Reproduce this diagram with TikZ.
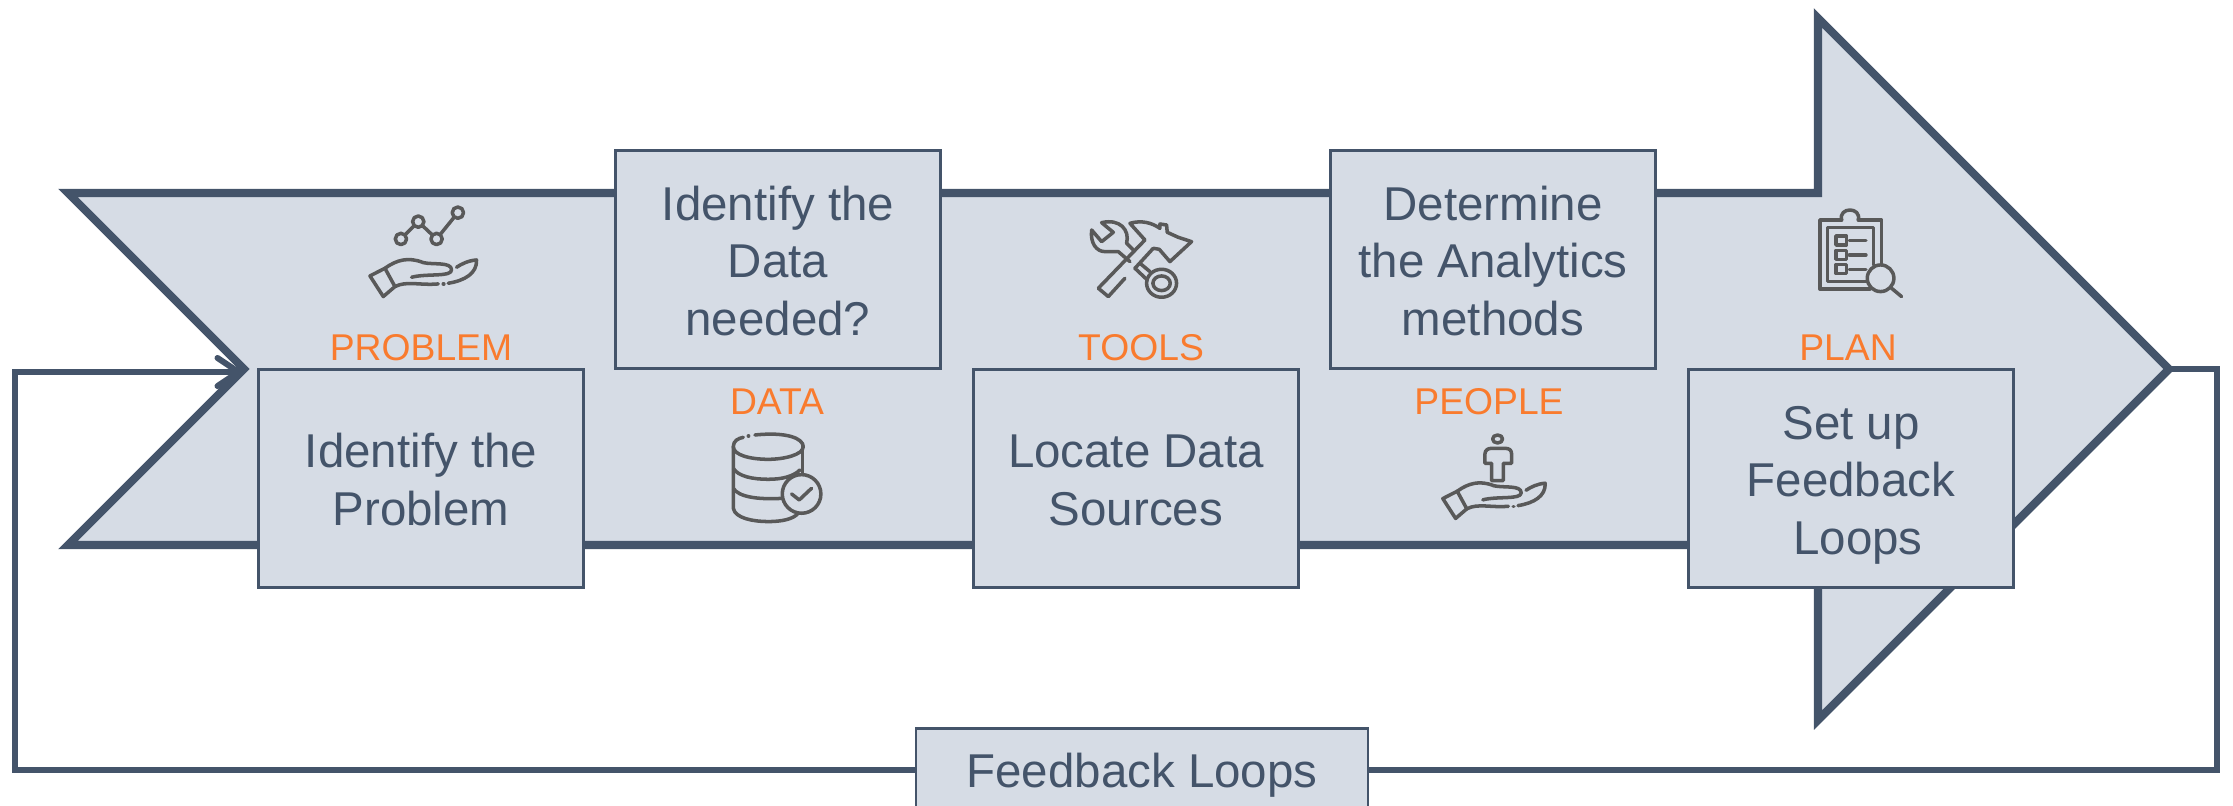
\documentclass[tikz,border=0pt]{standalone}
\usepackage{xcolor}
\usepackage{fontspec}
\setmainfont{Liberation Sans}
\usepackage{tikz}
\usetikzlibrary{arrows.meta}
\definecolor{slate}{HTML}{44546A}
\definecolor{paleslate}{HTML}{D6DCE5}
\definecolor{tagorange}{HTML}{F97B2E}
\definecolor{icongray}{HTML}{595959}
\newcommand{\topline}{\rule{0pt}{13.4pt}}
\tikzset{
  stepbox/.style={draw=slate, fill=paleslate, line width=.7pt, text=slate, minimum width=3.25cm, minimum height=2.18cm, inner sep=0pt, align=center, font=\fontsize{13.5}{16.4}\selectfont, execute at end node={\rule[-3pt]{0pt}{3pt}}},
  tag/.style={text=tagorange, inner sep=0pt, font=\fontsize{10.6}{12}\selectfont},
  iconline/.style={draw=icongray, line width=1pt, line cap=round, line join=round},
  handicon/.pic={
    \draw[iconline] (90,258) -- (135,235) -- (165,290) -- (130,320) -- cycle;
    \draw[iconline] (135,235) .. controls (170,210) and (205,200) .. (250,218) .. controls (280,225) and (335,215) .. (335,240) .. controls (335,262) and (260,250) .. (215,262);
    \draw[iconline] (165,290) .. controls (200,272) and (240,287) .. (295,282);
    \draw[iconline] (310,282) -- (312,282);
    \draw[iconline] (325,280) .. controls (375,272) and (412,250) .. (410,210) .. controls (385,212) and (365,222) .. (350,232);
  },
  charticon/.pic={
    \draw[iconline] (183,147) -- (235,95) -- (290,147) -- (354,68);
    \foreach \px/\py in {183/147, 235/95, 290/147, 354/68}
      \draw[iconline, fill=paleslate] (\px,\py) circle (17);
  },
  toolsicon/.pic={
    \draw[iconline] (85,265) -- (225,120);
    \draw[iconline] (85,265) -- (115,290) -- (165,235);
    \draw[iconline] (195,205) -- (250,145);
    \draw[iconline] (155,245) -- (156,245);
    \draw[iconline] (225,120) -- (180,70) .. controls (215,60) and (245,68) .. (270,85) -- (270,72) -- (290,75) -- (292,97) -- (325,112) -- (365,125) -- (300,185) -- (268,148) -- (250,145);
    \draw[iconline] (95,125) -- (65,90) .. controls (60,130) and (80,155) .. (105,155) -- (145,155) -- (180,185);
    \draw[iconline] (95,125) -- (130,97) -- (95,68) .. controls (150,55) and (180,90) .. (170,130) -- (190,150);
    \draw[iconline] (210,190) -- (240,215);
    \draw[iconline] (195,205) -- (232,240);
    \draw[iconline] (275,250) ellipse (45 and 42);
    \draw[iconline] (275,250) ellipse (26 and 22);
  },
  planicon/.pic={
    \draw[iconline] (155,90) -- (90,90) -- (90,298) -- (240,298);
    \draw[iconline] (205,90) -- (275,90) -- (275,225);
    \draw[iconline] (155,90) .. controls (145,50) and (215,50) .. (205,90);
    \draw[iconline] (240,275) -- (113,275) -- (113,113) -- (250,113) -- (250,225);
    \foreach \py in {138, 181, 224} {
      \draw[iconline] (138,\py) rectangle (170,\py+27);
      \draw[iconline] (178,\py+14) -- (228,\py+14);
    }
    \draw[iconline, fill=paleslate] (272,265) circle (40);
    \draw[iconline] (305,295) -- (335,320);
  },
  dbicon/.pic={
    \draw[iconline] (135,45) .. controls (230,35) and (280,55) .. (280,80) .. controls (280,105) and (220,118) .. (175,118) .. controls (120,118) and (70,105) .. (70,80) .. controls (70,62) and (85,55) .. (100,52);
    \draw[iconline] (115,48) -- (116,48);
    \draw[iconline] (70,80) -- (70,265) .. controls (75,295) and (130,305) .. (175,305) .. controls (215,305) and (250,298) .. (265,280);
    \draw[iconline] (278,80) -- (278,165);
    \draw[iconline] (70,145) .. controls (85,170) and (130,178) .. (175,178) .. controls (215,178) and (250,170) .. (270,150);
    \draw[iconline] (70,205) .. controls (85,230) and (140,240) .. (220,235);
    \draw[iconline, fill=paleslate] (275,222) circle (58);
    \draw[iconline] (245,222) -- (268,240) -- (305,205);
  },
  personicon/.pic={
    \draw[iconline] (233,57) ellipse (15 and 12);
    \draw[iconline] (215,130) -- (195,130) -- (195,102) .. controls (195,90) and (205,85) .. (215,85) -- (255,85) .. controls (268,85) and (275,90) .. (275,102) -- (275,130) -- (250,130) -- (250,182) -- (215,182) -- cycle;
  }
}

\begin{document}
\begin{tikzpicture}[x=0.01cm, y=-0.01cm]
      \clip (0,0) rectangle (2233,805);
      \coordinate (notch) at (244,369);
      \coordinate (tip) at (2169,369);
      \coordinate (leftturn) at (15,372);
      \coordinate (rightturn) at (2217,369);
      \draw[slate, fill=paleslate, line width=2.3pt] (68,193) -- (1818,193) -- (1818,18) -- (tip) -- (1818,720) -- (1818,545) -- (68,545) -- (notch) -- cycle;

      \node[stepbox, minimum width=4.52cm, minimum height=.82cm, execute at end node={}] (feedback) at (1142,769.5) {\rule{0pt}{13.25pt}Feedback Loops};
      \draw[slate, line width=1.7pt] (tip) -- (rightturn) |- (feedback.east);
      \draw[slate, line width=1.7pt, -{Straight Barb[length=6pt, width=8pt, line cap=round]}] (feedback.west) -| (leftturn) -- (notch |- leftturn);

      \node[stepbox] (problem) at (421,478.5) {\topline Identify the\\Problem};
      \node[stepbox] (data) at (778,259.5) {\topline Identify the\\Data\\needed?};
      \node[stepbox] (tools) at (1136,478.5) {\topline Locate Data\\Sources};
      \node[stepbox] (methods) at (1493,259.5) {\topline Determine\\the Analytics\\methods};
      \node[stepbox] (plan) at (1851,478.5) {\topline Set up\\Feedback\\\hspace*{4pt}Loops};

      \node[tag] (problemtag) at (421,348) {PROBLEM};
      \node[tag] (datatag) at (777,402) {DATA};
      \node[tag] (toolstag) at (1141,348) {TOOLS};
      \node[tag] (peopletag) at (1489,402) {PEOPLE};
      \node[tag] (plantag) at (1848,348) {PLAN};

      \pic[scale=0.333] at (340,190) {handicon};
      \pic[scale=0.333] at (340,190) {charticon};
      \pic[scale=0.333] at (710,420) {dbicon};
      \pic[scale=0.333] at (1070,200) {toolsicon};
      \pic[scale=0.32] at (1414,416) {handicon};
      \pic[scale=0.333] at (1420,420) {personicon};
      \pic[scale=0.333] at (1790,190) {planicon};
    \end{tikzpicture}
\end{document}
